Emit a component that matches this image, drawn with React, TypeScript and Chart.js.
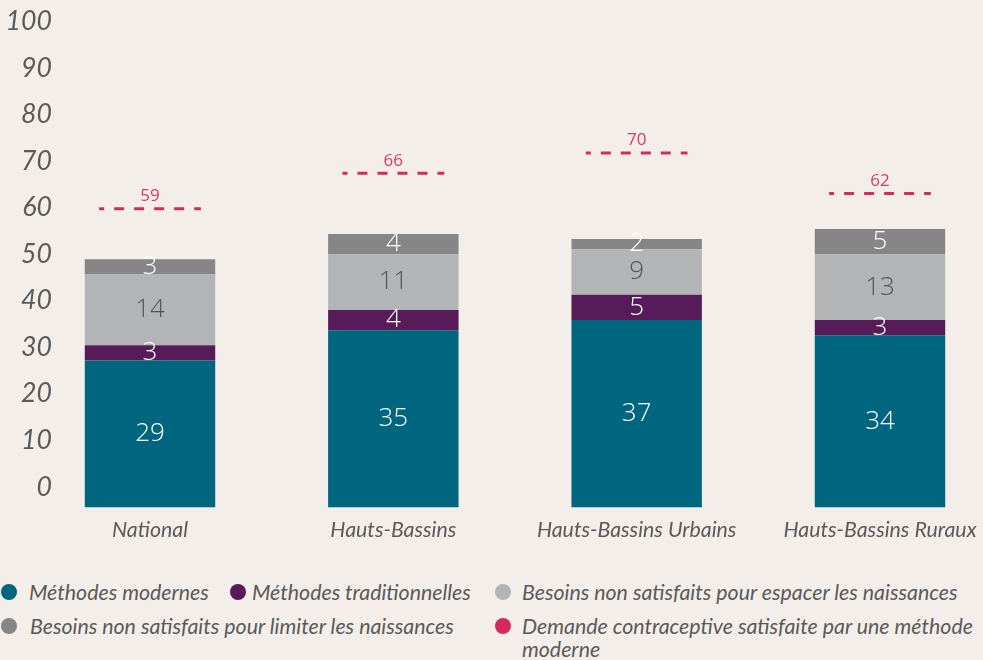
import React, { useEffect, useRef } from "react";
import { Chart, registerables } from "chart.js";

Chart.register(...registerables);

const categories = ["National", "Hauts-Bassins", "Hauts-Bassins Urbains", "Hauts-Bassins Ruraux"];
const modernes = [29, 35, 37, 34];
const traditionnelles = [3, 4, 5, 3];
const espacer = [14, 11, 9, 13];
const limiter = [3, 4, 2, 5];
const demande = [59, 66, 70, 62];
const yTickValues = [0, 10, 20, 30, 40, 50, 60, 70, 80, 90, 100];

const seriesNames = [
  "Méthodes modernes",
  "Méthodes traditionnelles",
  "Besoins non satisfaits pour espacer les naissances",
  "Besoins non satisfaits pour limiter les naissances",
  "Demande contraceptive satisfaite par une méthode moderne",
];
const seriesColors = ["#00657f", "#561b58", "#b3b4b6", "#868686", "#d42b5f"];
const labelColors = ["#ffffff", "#ffffff", "#555555", "#ffffff"];

const BG = "#f3eeea";
const TEXT = "#5a5a5a";

const overlayPlugin = {
  id: "overlay",
  afterDatasetsDraw(chart: any) {
    const ctx = chart.ctx;
    ctx.save();
    chart.data.datasets.forEach((ds: any, di: number) => {
      const meta = chart.getDatasetMeta(di);
      if (ds.type === "line") {
        const barMeta = chart.getDatasetMeta(0);
        meta.data.forEach((pt: any, i: number) => {
          const bw = barMeta.data[i].width;
          const half = (bw * 0.78) / 2;
          ctx.strokeStyle = ds.borderColor;
          ctx.lineWidth = 3;
          ctx.setLineDash([10, 10]);
          ctx.lineDashOffset = 5;
          ctx.beginPath();
          ctx.moveTo(pt.x - half, pt.y);
          ctx.lineTo(pt.x + half, pt.y);
          ctx.stroke();
          ctx.setLineDash([]);
          ctx.fillStyle = "#d63a6a";
          ctx.font = "400 17px 'Open Sans'";
          ctx.textAlign = "center";
          ctx.textBaseline = "middle";
          ctx.fillText(String(ds.data[i].y), pt.x, pt.y - 12.5);
        });
      } else {
        meta.data.forEach((bar: any, i: number) => {
          const p = bar.getProps(["x", "y", "base"], true);
          ctx.fillStyle = labelColors[di];
          ctx.font = "300 26px 'Open Sans'";
          ctx.textAlign = "center";
          ctx.textBaseline = "middle";
          ctx.fillText(String(ds.data[i].y), p.x, (p.y + p.base) / 2);
        });
      }
    });
    ctx.restore();
  },
};

export default function App() {
  const canvasRef = useRef<HTMLCanvasElement | null>(null);

  useEffect(() => {
    if (!canvasRef.current) return;
    const toPoints = (arr: number[]) => arr.map((v, i) => ({ x: i, y: v }));
    const barSeries = [modernes, traditionnelles, espacer, limiter];
    const datasets: any[] = barSeries.map((arr, k) => ({
      type: "bar",
      label: seriesNames[k],
      data: toPoints(arr),
      backgroundColor: seriesColors[k],
      borderWidth: 0,
      barPercentage: 0.536,
      categoryPercentage: 1,
      xAxisID: "x",
      yAxisID: "y",
      stack: "bars",
    }));
    datasets.push({
      type: "line",
      label: seriesNames[4],
      data: toPoints(demande),
      borderColor: seriesColors[4],
      backgroundColor: seriesColors[4],
      showLine: false,
      pointRadius: 0,
      xAxisID: "x",
      yAxisID: "y",
      stack: "demande",
    });

    const chart = new Chart(canvasRef.current, {
      type: "bar",
      data: { datasets },
      plugins: [overlayPlugin],
      options: {
        animation: false,
        responsive: true,
        maintainAspectRatio: false,
        events: [],
        layout: { padding: { top: 31, bottom: 8, left: 0, right: 0 } },
        plugins: { legend: { display: false }, tooltip: { enabled: false } },
        scales: {
          x: {
            type: "linear",
            offset: false,
            min: -0.3904,
            max: 3.4932,
            stacked: true,
            grid: { display: false, drawTicks: false, offset: false },
            border: { display: false },
            afterBuildTicks: (axis: any) => {
              axis.ticks = categories.map((_, i) => ({ value: i }));
            },
            ticks: {
              autoSkip: false,
              maxRotation: 0,
              padding: 10,
              color: TEXT,
              font: { family: "Lato", size: 21.33, style: "italic" },
              callback: (v: any) => categories[v] ?? "",
            },
          },
          y: {
            type: "linear",
            display: false,
            stacked: true,
            min: 0,
            max: 100,
          },
          yl: {
            type: "linear",
            position: "left",
            min: -4.4,
            max: 104.44,
            grid: { display: false, drawTicks: false },
            border: { display: false },
            afterBuildTicks: (axis: any) => {
              axis.ticks = yTickValues.map((v) => ({ value: v }));
            },
            afterFit: (axis: any) => {
              axis.width = 55;
            },
            ticks: {
              padding: 3,
              color: TEXT,
              font: { family: "Lato", size: 26.67, style: "italic" },
            },
          },
        } as any,
      },
    } as any);
    return () => chart.destroy();
  }, []);

  const legendGaps = [12, 6, 11, 13, 11];
  const legendItem = (k: number, extra: React.CSSProperties = {}) => (
    <div key={k} style={{ display: "flex", alignItems: "flex-start", ...extra }}>
      <span
        style={{
          width: 16,
          height: 16,
          borderRadius: "50%",
          background: seriesColors[k],
          flex: "0 0 16px",
          marginTop: 3.5,
          marginRight: legendGaps[k],
        }}
      />
      <span>{seriesNames[k]}</span>
    </div>
  );

  return (
    <div
      style={{
        position: "fixed",
        left: 0,
        top: 0,
        width: 983,
        height: 660,
        overflow: "hidden",
        background: BG,
      }}
    >
      <div style={{ position: "absolute", left: 0, top: -30, width: 1000, height: 591 }}>
        <canvas ref={canvasRef} />
      </div>
      <div
        style={{
          position: "absolute",
          left: 1,
          top: 580.5,
          width: 982,
          display: "grid",
          gridTemplateColumns: "229px 265px 1fr",
          rowGap: 11,
          fontFamily: "Lato",
          fontStyle: "italic",
          fontSize: 21.33,
          lineHeight: "23px",
          color: TEXT,
        }}
      >
        {legendItem(0)}
        {legendItem(1)}
        {legendItem(2)}
        {legendItem(3, { gridColumn: "1 / 3" })}
        {legendItem(4, { gridColumn: "3 / 4" })}
      </div>
    </div>
  );
}
